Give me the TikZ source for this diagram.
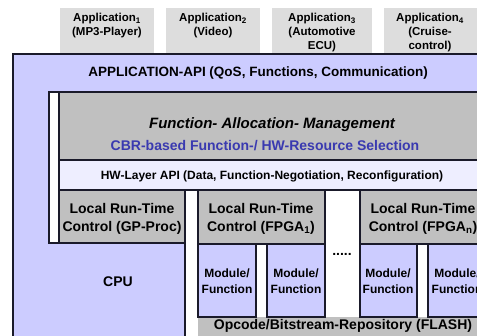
\documentclass[tikz,border=0pt]{standalone}
\usepackage{fontspec}
\setmainfont{Liberation Sans}
\definecolor{lav}{HTML}{CCCCFF}
\definecolor{gr}{HTML}{C0C0C0}
\definecolor{appgr}{HTML}{DDDDDD}
\definecolor{hwc}{HTML}{EEEEFF}
\definecolor{cbr}{HTML}{3A3AB0}
\definecolor{edge}{HTML}{1A1A2A}
\tikzset{
  box/.style={draw=edge, line width=1.2pt},
  lbl/.style={font=\bfseries\fontsize{14}{18}\selectfont, align=center, inner sep=0pt, text=black},
  applbl/.style={font=\bfseries\fontsize{11.5}{14}\selectfont, align=center, inner sep=0pt},
  modlbl/.style={font=\bfseries\fontsize{12}{16}\selectfont, align=center, inner sep=0pt},
}
\begin{document}
\begin{tikzpicture}[x=1pt,y=-1pt]
\useasboundingbox (0,0) rectangle (477,336);
\clip (0,0) rectangle (477,336);
% application boxes
\fill[appgr] (60,8) rectangle (154,56);
\fill[appgr] (166,8) rectangle (260,56);
\fill[appgr] (272,8) rectangle (372,56);
\fill[appgr] (384,8) rectangle (490,56);
\node[applbl] (a1) at (107,26) {Application\textsubscript{1}\\(MP3-Player)};
\node[applbl] (a2) at (213,26) {Application\textsubscript{2}\\(Video)};
\node[applbl] (a3) at (322,33) {Application\textsubscript{3}\\(Automotive\\ECU)};
\node[applbl] (a4) at (430,33) {Application\textsubscript{4}\\(Cruise-\\control)};
% big blue box
\path[box, fill=lav] (13,54) rectangle (495,350);
\node[lbl, font=\bfseries\fontsize{13.5}{16}\selectfont] (api) at (258,73) {APPLICATION-API (QoS, Functions, Communication)};
% inner white region
\path[box, fill=white] (49,92) -- (495,92) -- (495,350) -- (185,350) -- (185,243) -- (49,243) -- cycle;
% function allocation management
\path[box, fill=gr] (59,92) rectangle (495,160);
\node[lbl, font=\bfseries\itshape\fontsize{15}{18}\selectfont] (fam) at (272,125) {Function- Allocation- Management};
\node[lbl, text=cbr] (cbrt) at (265,146) {CBR-based Function-/ HW-Resource Selection};
% HW layer api
\path[box, fill=hwc] (59,160) rectangle (495,190);
\node[lbl, font=\bfseries\fontsize{12}{15}\selectfont] (hw) at (272,176) {HW-Layer API (Data, Function-Negotiation, Reconfiguration)};
% local run-time controls
\path[box, fill=gr] (59,190) rectangle (185,243);
\node[lbl] (gp) at (122,219) {Local Run-Time\\Control (GP-Proc)};
\path[box, fill=gr] (198,190) rectangle (325,244);
\node[lbl] (f1) at (261,219) {Local Run-Time\\Control (FPGA\textsubscript{1})};
\path[box, fill=gr] (360,190) rectangle (495,244);
\node[lbl] (fn) at (423,219) {Local Run-Time\\Control (FPGA\textsubscript{n})};
% CPU
\node[lbl] (cpu) at (118,282) {CPU};
% flash band
\fill[gr] (198,317) rectangle (495,350);
\node[lbl] (flash) at (343,326) {Opcode/Bitstream-Repository (FLASH)};
% modules
\path[box, fill=lav] (198,244) rectangle (256,317);
\path[box, fill=lav] (267,244) rectangle (325,317);
\path[box, fill=lav] (360,244) rectangle (417,317);
\path[box, fill=lav] (428,244) rectangle (495,317);
\node[modlbl] (m1) at (227,281) {Module/\\Function};
\node[modlbl] (m2) at (296,281) {Module/\\Function};
\node[modlbl] (m3) at (388,281) {Module/\\Function};
\node[modlbl] (m4) at (457,281) {Module/\\Function};
\node[lbl] (dots) at (342,254) {.....};
\end{tikzpicture}
\end{document}
